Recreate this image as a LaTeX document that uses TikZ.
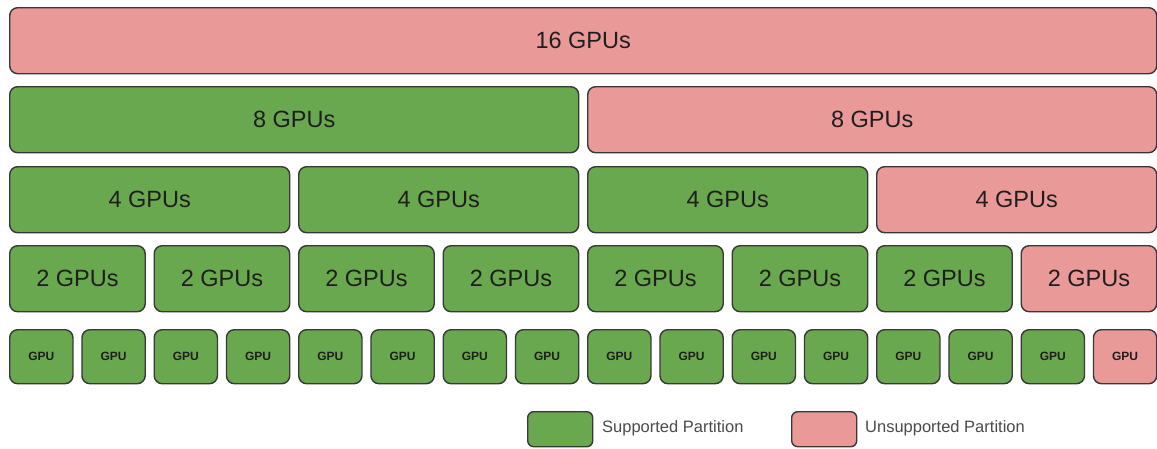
\documentclass[tikz,border=0pt]{standalone}
\usepackage{fontspec}
\setmainfont{Liberation Sans}
\definecolor{supgreen}{HTML}{6AA84F}
\definecolor{unspink}{HTML}{EA9999}
\definecolor{edgegray}{HTML}{383838}
\definecolor{txtdark}{HTML}{1E1E1E}
\definecolor{leggray}{HTML}{4A4A4A}
\begin{document}
\begin{tikzpicture}[x=1pt,y=-1pt,
  part/.style={rectangle, rounded corners=8pt, draw=edgegray, line width=1.4pt,
    anchor=north west, inner sep=0pt, text=txtdark, font=\fontsize{23.5}{26}\selectfont},
  sup/.style={part, fill=supgreen},
  uns/.style={part, fill=unspink},
  gpu/.style={minimum width=63.25pt, minimum height=54pt, font=\fontsize{12}{13}\selectfont\bfseries},
  two/.style={minimum width=135.5pt, minimum height=66pt},
  four/.style={minimum width=280pt, minimum height=66pt},
  eight/.style={minimum width=569pt, minimum height=66pt},
  sixteen/.style={minimum width=1147pt, minimum height=66pt},
  legbox/.style={rectangle, rounded corners=6pt, draw=edgegray, line width=1.4pt,
    anchor=north west, minimum width=65pt, minimum height=35pt, inner sep=0pt},
  legtext/.style={anchor=west, text=leggray, font=\fontsize{16.5}{18}\selectfont, inner sep=0pt}]
\useasboundingbox (0,0) rectangle (1157,448);
% row 1
\node[uns, sixteen] (r16) at (9,7) {16 GPUs};
% row 2
\node[sup, eight] (r8a) at (9,86) {8 GPUs};
\node[uns, eight] (r8b) at ({9+8*72.25},86) {8 GPUs};
% row 3
\foreach \k in {0,1,2}
  \node[sup, four] (r4\k) at ({9+\k*4*72.25},166) {4 GPUs};
\node[uns, four] (r43) at ({9+12*72.25},166) {4 GPUs};
% row 4
\foreach \k in {0,...,6}
  \node[sup, two] (r2\k) at ({9+\k*2*72.25},245) {2 GPUs};
\node[uns, two] (r27) at ({9+14*72.25},245) {2 GPUs};
% row 5
\foreach \k in {0,...,14}
  \node[sup, gpu] (r1\k) at ({9+\k*72.25},329) {GPU};
\node[uns, gpu] (r115) at ({9+15*72.25},329) {GPU};
% legend
\node[legbox, fill=supgreen] (lsup) at (527,411) {};
\node[legtext] (lsupt) at (602,428.5) {Supported Partition};
\node[legbox, fill=unspink] (luns) at (791,411) {};
\node[legtext] (lunst) at (865,428.5) {Unsupported Partition};
\end{tikzpicture}
\end{document}
